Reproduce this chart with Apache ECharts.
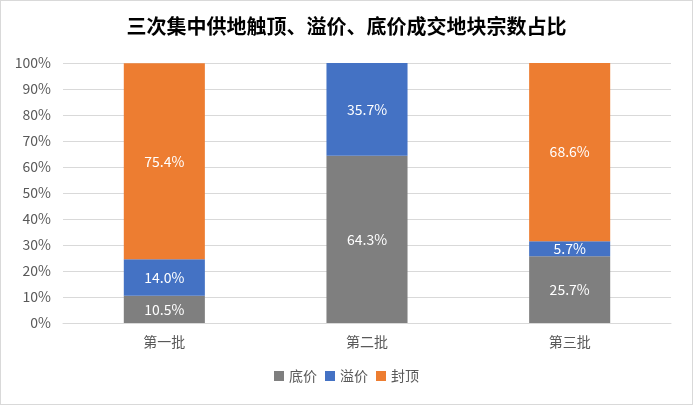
<!DOCTYPE html>
<html><head><meta charset="utf-8">
<script src="https://cdn.jsdelivr.net/npm/echarts@6/dist/echarts.min.js"></script>
<style>html,body{margin:0;padding:0;background:#fff}#c{width:693px;height:405px;box-sizing:border-box;border:1px solid #d9d9d9}</style>
</head><body><div id="c"></div>
<script>
const categories = ['第一批', '第二批', '第三批'];
const seriesNames = ['底价', '溢价', '封顶'];
const diJia = [10.5, 64.3, 25.7];
const yiJia = [14.0, 35.7, 5.7];
const fengDing = [75.4, 0, 68.6];
const colors = ['#7F7F7F', '#4472C4', '#ED7D31'];
const chart = echarts.init(document.getElementById('c'));
const font = '"Microsoft YaHei","Noto Sans CJK SC",sans-serif';
const mk = (name, data, color) => ({
  name, type: 'bar', stack: 'a', data, barWidth: '40%',
  itemStyle: {color},
  label: {show: true, color: '#fff', fontSize: 14, fontFamily: font,
    formatter: p => p.value > 0 ? p.value.toFixed(1) + '%' : ''}
});
chart.setOption({
  animation: false,
  title: {text: '三次集中供地触顶、溢价、底价成交地块宗数占比', left: 'center', top: 10,
    textStyle: {fontSize: 20, fontWeight: 'bold', color: '#000', fontFamily: font}},
  legend: {bottom: 16, itemWidth: 10, itemHeight: 10, itemGap: 8, icon: 'rect',
    textStyle: {fontSize: 14, color: '#595959', fontFamily: font}},
  grid: {left: 62, right: 21, top: 62, bottom: 81},
  xAxis: {type: 'category', data: categories,
    axisLine: {lineStyle: {color: '#d9d9d9'}}, axisTick: {show: false},
    axisLabel: {fontSize: 14, color: '#595959', margin: 12, fontFamily: font}},
  yAxis: {type: 'value', min: 0, max: 100, interval: 10,
    axisLabel: {formatter: '{value}%', fontSize: 14, color: '#595959', margin: 12, fontFamily: font},
    splitLine: {lineStyle: {color: '#d9d9d9'}}},
  series: [mk(seriesNames[0], diJia, colors[0]), mk(seriesNames[1], yiJia, colors[1]), mk(seriesNames[2], fengDing, colors[2])]
});
</script></body></html>
